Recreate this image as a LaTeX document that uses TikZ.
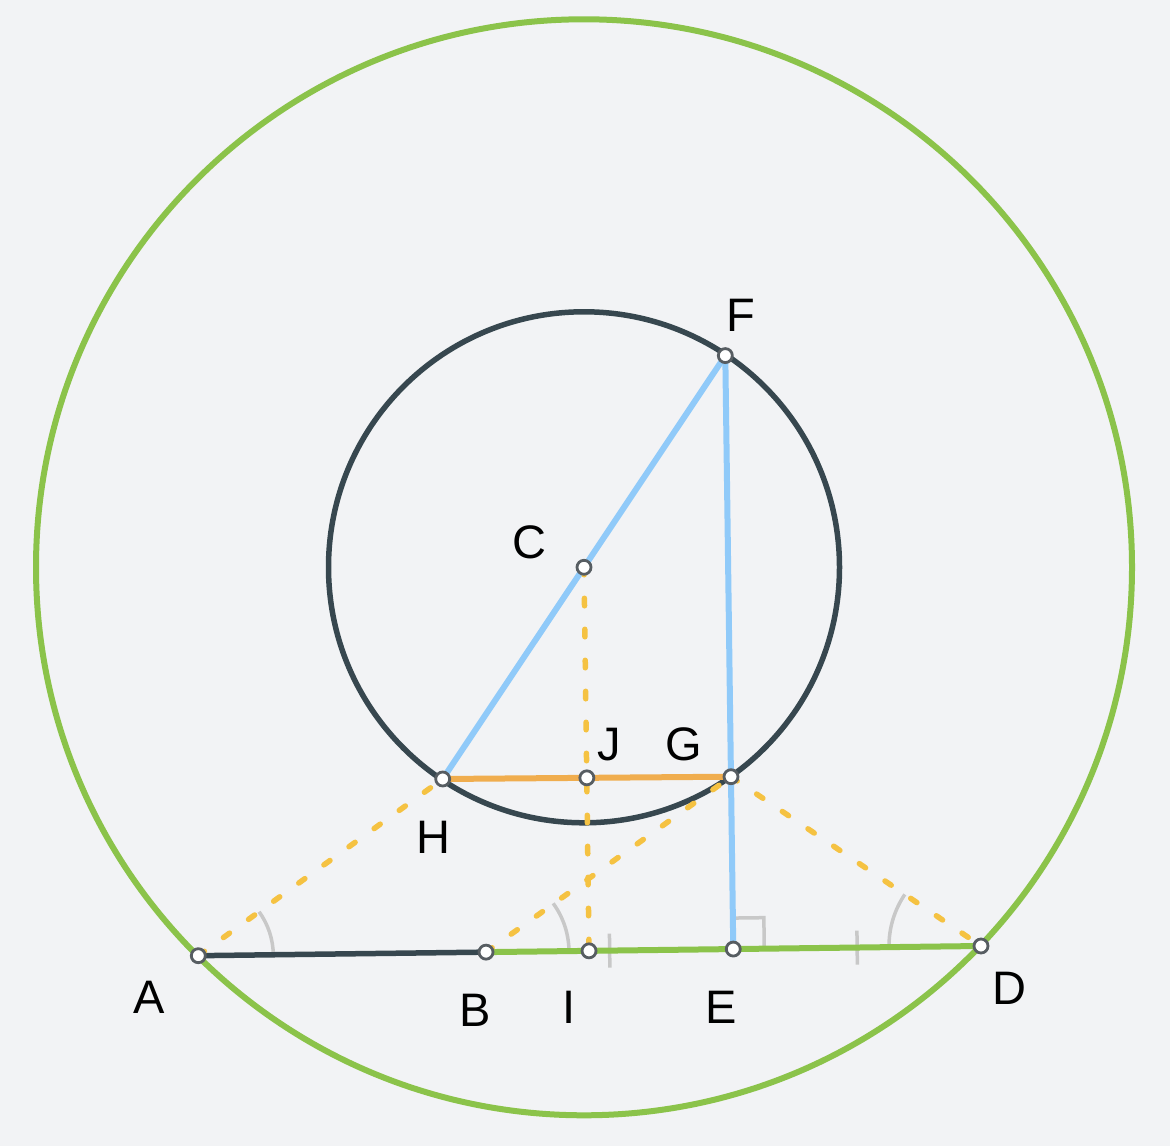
\documentclass[tikz,border=0pt]{standalone}
\usepackage{fontspec}
\setmainfont{Liberation Sans}
\usetikzlibrary{calc}
\definecolor{bgc}{HTML}{F2F3F5}
\definecolor{grn}{HTML}{8BC34A}
\definecolor{drk}{HTML}{37474F}
\definecolor{blu}{HTML}{90CAF9}
\definecolor{org}{HTML}{F0AD4E}
\definecolor{yel}{HTML}{F5C242}
\definecolor{mrk}{HTML}{C8C8C8}
\definecolor{ptb}{HTML}{575D62}
\begin{document}
\begin{tikzpicture}[x=1pt,y=1pt,
  greenline/.style={draw=grn, line width=6pt},
  darkline/.style={draw=drk, line width=5.5pt},
  blueline/.style={draw=blu, line width=6pt},
  orangeline/.style={draw=org, line width=6pt},
  dashline/.style={draw=yel, line width=5.5pt, line cap=round, dash pattern=on 7.5pt off 23.5pt},
  markline/.style={draw=mrk, line width=3.5pt},
  ptnode/.style={circle, fill=white, draw=ptb, line width=2.8pt, minimum size=14pt, inner sep=0pt},
  lbl/.style={inner sep=0pt, font=\fontsize{47}{56}\selectfont, text=black}]
\fill[bgc] (0,0) rectangle (1170,1146);
\useasboundingbox (0,0) rectangle (1170,1146);
% points
\coordinate (A) at (198.3,190.3);
\coordinate (D) at (981,200);
\coordinate (B) at ($(A)!0.3676!(D)$);
\coordinate (I) at ($(A)!0.4992!(D)$);
\coordinate (E) at ($(A)!0.6835!(D)$);
\coordinate (C) at (584,578.7);
\coordinate (H) at (442.7,367);
\coordinate (F) at ($(H)!2!(C)$);
\coordinate (G) at (731,369.3);
\coordinate (J) at ($(H)!0.5!(G)$);
% circles
\draw[greenline] (C) circle[radius=548pt];
\draw[darkline] (C) circle[radius=255.5pt];
% angle marks
\draw[markline] ($(A)+(0.7:75pt)$) arc[start angle=0.7, end angle=35.9, radius=75pt];
\draw[markline] ($(B)+(0.7:83pt)$) arc[start angle=0.7, end angle=36, radius=83pt];
\draw[markline] ($(D)+(145.9:92pt)$) arc[start angle=145.9, end angle=180.7, radius=92pt];
% right angle at E
\coordinate (e1) at ($(E)!31pt!(D)$);
\coordinate (e2) at ($(E)!31pt!(F)$);
\coordinate (e3) at ($(e1)+(e2)-(E)$);
\draw[markline] (e1) -- (e3) -- (e2);
% ticks
\coordinate (m1) at ($(B)!0.5!(E)$);
\coordinate (m2) at ($(E)!0.5!(D)$);
\draw[markline] ($(m1)!17pt!90:(E)$) -- ($(m1)!17pt!-90:(E)$);
\draw[markline] ($(m2)!17pt!90:(D)$) -- ($(m2)!17pt!-90:(D)$);
% segments
\draw[darkline] (A) -- (B);
\draw[greenline] (B) -- (D);
\draw[blueline] (H) -- (F);
\draw[blueline] (F) -- (E);
\draw[orangeline] (H) -- (G);
% dashed
\draw[dashline] (C) -- (I);
\draw[dashline] (A) -- (H);
\draw[dashline] (B) -- (G);
\draw[dashline] (G) -- (D);
% point markers
\foreach \p in {A,B,I,E,D,H,J,G,F,C}
  \node[ptnode] (p\p) at (\p) {};
% labels
\node[lbl] (lA) at (149,149) {A};
\node[lbl] (lB) at (475,136) {B};
\node[lbl] (lI) at (569,138.5) {I};
\node[lbl] (lE) at (721,138.5) {E};
\node[lbl] (lD) at (1009.5,157.7) {D};
\node[lbl] (lH) at (433.5,309) {H};
\node[lbl] (lJ) at (609,401.3) {J};
\node[lbl] (lG) at (684,401.3) {G};
\node[lbl] (lF) at (741,831) {F};
\node[lbl] (lC) at (529,603.5) {C};
\end{tikzpicture}
\end{document}
